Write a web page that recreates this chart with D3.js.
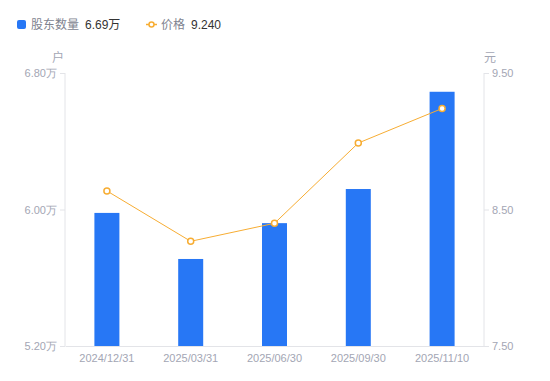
<!DOCTYPE html>
<html>
<head>
<meta charset="utf-8">
<script src="https://cdn.jsdelivr.net/npm/d3@7"></script>
<style>
  html, body { margin: 0; padding: 0; background: #fff; }
  svg { display: block; font-family: "Liberation Sans", "Noto Sans CJK SC", sans-serif; }
</style>
</head>
<body>
<div id="chart"></div>
<script>
// data
const dates = ["2024/12/31", "2025/03/31", "2025/06/30", "2025/09/30", "2025/11/10"];
const holders = [5.98, 5.71, 5.92, 6.12, 6.69]; // 万户
const prices = [8.636, 8.267, 8.399, 8.987, 9.24]; // 元
const leftTicks = [5.2, 6.0, 6.8];
const rightTicks = [7.5, 8.5, 9.5];

const width = 550;
const height = 381;
const margin = { top: 73, right: 66, bottom: 35, left: 65 };

const svg = d3.select("#chart")
  .append("svg")
  .attr("width", width)
  .attr("height", height);

const x = d3.scaleBand()
  .domain(dates)
  .range([margin.left, width - margin.right]);

const yL = d3.scaleLinear()
  .domain([5.2, 6.8])
  .range([height - margin.bottom, margin.top]);

const yR = d3.scaleLinear()
  .domain([7.5, 9.5])
  .range([height - margin.bottom, margin.top]);

const axisColor = "#e3e4e8";
const tickText = "#a3a6b4";
const blue = "#2777f5";
const orange = "#f7ad33";

// left axis
const gl = svg.append("g")
  .attr("transform", `translate(${margin.left},0)`)
  .call(d3.axisLeft(yL).tickValues(leftTicks).tickSize(5).tickPadding(3)
    .tickFormat(d => d3.format(".2f")(d) + "万"));

// right axis
const gr = svg.append("g")
  .attr("transform", `translate(${width - margin.right},0)`)
  .call(d3.axisRight(yR).tickValues(rightTicks).tickSize(5).tickPadding(3)
    .tickFormat(d3.format(".2f")));

[gl, gr].forEach(g => {
  g.select(".domain").remove();
  g.selectAll(".tick line").attr("stroke", axisColor);
  g.selectAll(".tick text").attr("fill", tickText).style("font-size", "11px");
});

svg.append("line")
  .attr("x1", margin.left).attr("x2", margin.left)
  .attr("y1", margin.top).attr("y2", height - margin.bottom)
  .attr("stroke", axisColor);
svg.append("line")
  .attr("x1", width - margin.right).attr("x2", width - margin.right)
  .attr("y1", margin.top).attr("y2", height - margin.bottom)
  .attr("stroke", axisColor);

// bottom axis
const gb = svg.append("g")
  .attr("transform", `translate(0,${height - margin.bottom})`)
  .call(d3.axisBottom(x).tickSize(0).tickPadding(8));
gb.select(".domain").attr("stroke", axisColor);
gb.selectAll(".tick text").attr("fill", tickText).style("font-size", "11px");

// unit labels
svg.append("text")
  .attr("x", 58).attr("y", 62)
  .attr("text-anchor", "middle")
  .attr("fill", tickText)
  .style("font-size", "12px")
  .text("户");
svg.append("text")
  .attr("x", 490).attr("y", 62)
  .attr("text-anchor", "middle")
  .attr("fill", tickText)
  .style("font-size", "12px")
  .text("元");

// bars
const barW = 25;
svg.selectAll(".bar")
  .data(holders)
  .enter()
  .append("rect")
  .attr("class", "bar")
  .attr("x", (d, i) => x(dates[i]) + x.bandwidth() / 2 - barW / 2)
  .attr("y", d => yL(d))
  .attr("width", barW)
  .attr("height", d => yL(5.2) - yL(d))
  .attr("fill", blue);

// price line
const line = d3.line()
  .x((d, i) => x(dates[i]) + x.bandwidth() / 2)
  .y(d => yR(d));

svg.append("path")
  .datum(prices)
  .attr("d", line)
  .attr("fill", "none")
  .attr("stroke", orange)
  .attr("stroke-width", 1);

svg.selectAll(".pt")
  .data(prices)
  .enter()
  .append("circle")
  .attr("class", "pt")
  .attr("cx", (d, i) => x(dates[i]) + x.bandwidth() / 2)
  .attr("cy", d => yR(d))
  .attr("r", 3)
  .attr("fill", "#fff")
  .attr("stroke", orange)
  .attr("stroke-width", 1.5);

// legend
const lg = svg.append("g");
lg.append("rect")
  .attr("x", 17).attr("y", 20)
  .attr("width", 9).attr("height", 9)
  .attr("rx", 2)
  .attr("fill", blue);
lg.append("text")
  .attr("x", 31).attr("y", 29)
  .attr("fill", "#80838f")
  .style("font-size", "12px")
  .text("股东数量");
lg.append("text")
  .attr("x", 85).attr("y", 29)
  .attr("fill", "#333")
  .style("font-size", "12px")
  .text(d3.format(".2f")(holders[holders.length - 1]) + "万");

lg.append("line")
  .attr("x1", 146).attr("x2", 157)
  .attr("y1", 24.5).attr("y2", 24.5)
  .attr("stroke", orange)
  .attr("stroke-width", 1.5);
lg.append("circle")
  .attr("cx", 151.5).attr("cy", 24.5)
  .attr("r", 2.5)
  .attr("fill", "#fff")
  .attr("stroke", orange)
  .attr("stroke-width", 1.5);
lg.append("text")
  .attr("x", 161).attr("y", 29)
  .attr("fill", "#80838f")
  .style("font-size", "12px")
  .text("价格");
lg.append("text")
  .attr("x", 191).attr("y", 29)
  .attr("fill", "#333")
  .style("font-size", "12px")
  .text(d3.format(".3f")(prices[prices.length - 1]));
</script>
</body>
</html>
